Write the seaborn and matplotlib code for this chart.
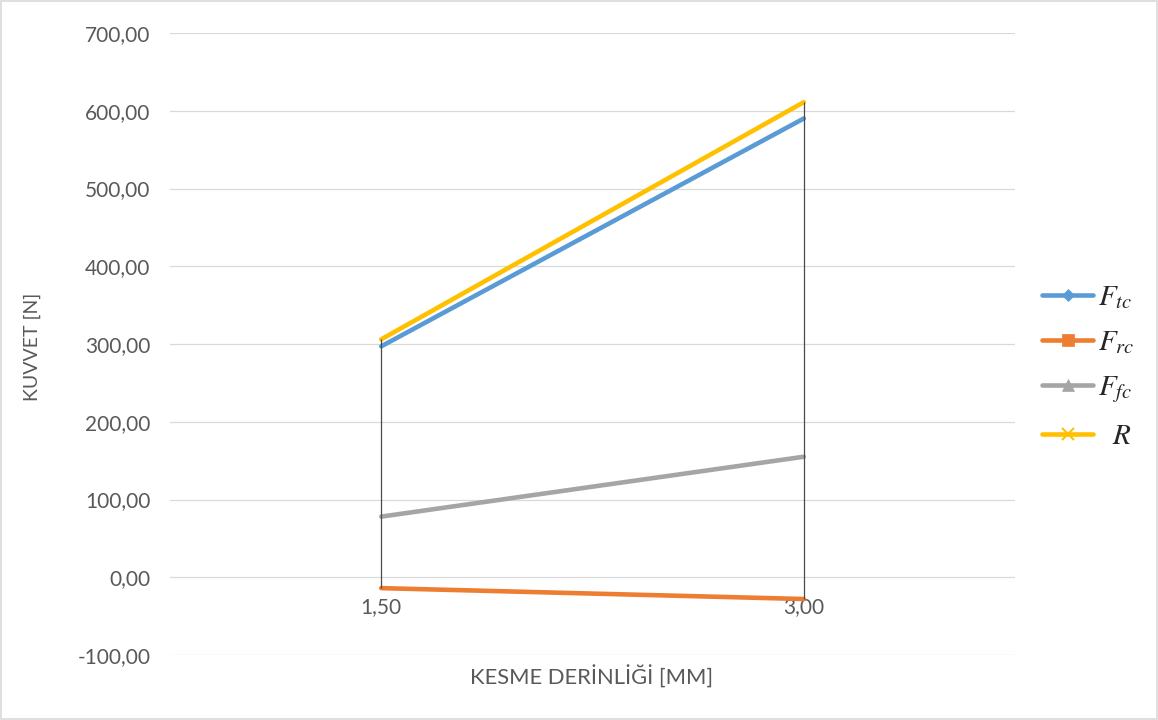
import numpy as np
import pandas as pd
import seaborn as sns
import matplotlib
matplotlib.use("Agg")
import matplotlib.pyplot as plt
from matplotlib.lines import Line2D
from matplotlib.patches import Rectangle
from matplotlib.ticker import FuncFormatter

# Cutting depth categories and force components
depths = ["1,50", "3,00"]
series_names = ["$F_{tc}$", "$F_{rc}$", "$F_{fc}$", "$\\ \\ R$"]
ftc = [297.0, 590.0]
frc = [-14.0, -28.0]
ffc = [78.0, 155.0]
r_total = [306.0, 611.0]

colors = ["#5B9BD5", "#ED7D31", "#A5A5A5", "#FFC000"]
markers = ["D", "s", "^", "x"]
marker_sizes = [6, 8, 8, 9]

sns.set_theme(style="white")
plt.rcParams["font.family"] = ["Lato", "DejaVu Sans"]
plt.rcParams["mathtext.fontset"] = "stix"

rows = []
for name, vals in zip(series_names, [ftc, frc, ffc, r_total]):
    for i, v in enumerate(vals):
        rows.append({"pos": i, "value": v, "series": name})
df = pd.DataFrame(rows)

fig = plt.figure(figsize=(11.58, 7.2), dpi=100)
ax = fig.add_axes([170 / 1158, 1 - 655 / 720, (1015 - 170) / 1158, (655 - 33) / 720])

text_color = "#595959"
grid_color = "#D9D9D9"

ax.set_ylim(-100, 700)
ax.set_xlim(-0.5, 1.5)
ax.set_yticks(np.arange(-100, 701, 100))
ax.yaxis.set_major_formatter(FuncFormatter(lambda v, _: f"{v:.2f}".replace(".", ",")))
ax.grid(axis="y", color=grid_color, linewidth=0.9)
ax.grid(axis="x", visible=False)
ax.set_axisbelow(True)

sns.lineplot(data=df, x="pos", y="value", hue="series", hue_order=series_names,
             palette=colors, linewidth=3.3, ax=ax, legend=False,
             solid_capstyle="round", zorder=3)

# High-low lines spanning all series at each category
all_vals = np.array([ftc, frc, ffc, r_total])
ax.vlines(np.arange(len(depths)), all_vals.min(axis=0), all_vals.max(axis=0),
          color="#4A4A4A", linewidth=0.9, zorder=4)

for s in ax.spines.values():
    s.set_visible(False)
ax.spines["bottom"].set_position(("data", 0))

ax.set_xticks(np.arange(len(depths)))
ax.set_xticklabels(depths)
ax.tick_params(axis="x", length=0, pad=14, labelsize=15, labelcolor=text_color)
ax.tick_params(axis="y", length=0, pad=14, labelsize=15, labelcolor=text_color)
ax.set_xlabel("")
ax.set_ylabel("")

fig.text(592 / 1158, 1 - 677 / 720, "KESME DERİNLİĞİ [MM]", ha="center", va="center",
         fontsize=15.8, color=text_color)
fig.text(32 / 1158, 1 - 347 / 720, "KUVVET [N]", ha="center", va="center",
         rotation=90, fontsize=14, color=text_color)

handles = [Line2D([0], [0], color=c, linewidth=3.3, marker=m, markersize=ms,
                  markeredgewidth=1.5 if m == "x" else 0.5, markeredgecolor=c)
           for c, m, ms in zip(colors, markers, marker_sizes)]
fig.legend(handles, series_names, loc="center left",
           bbox_to_anchor=(1016 / 1158, 1 - 367 / 720), frameon=False,
           fontsize=21, handlelength=1.75, handletextpad=0.15, labelspacing=0.62)

fig.patches.append(Rectangle((0.001, 0.001), 0.998, 0.998, transform=fig.transFigure,
                             fill=False, edgecolor=grid_color, linewidth=1.2))

fig.savefig("out.png", dpi=100)
